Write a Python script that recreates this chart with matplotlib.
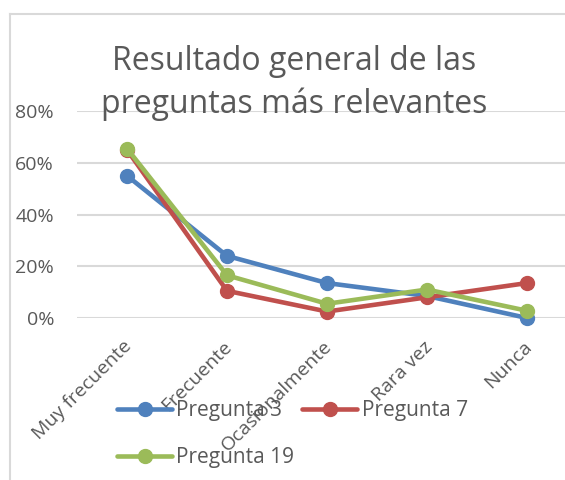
import matplotlib
matplotlib.use("Agg")
import matplotlib.pyplot as plt
from matplotlib.lines import Line2D
from matplotlib.transforms import ScaledTranslation

categories = ["Muy frecuente", "Frecuente", "Ocasionalmente", "Rara vez", "Nunca"]
pregunta_3 = [0.55, 0.24, 0.135, 0.085, 0.0]
pregunta_7 = [0.65, 0.105, 0.025, 0.08, 0.135]
pregunta_19 = [0.655, 0.165, 0.055, 0.11, 0.028]
yticks = [0, 0.2, 0.4, 0.6, 0.8]
ytick_labels = ["0%", "20%", "40%", "60%", "80%"]
title = "Resultado general de las\npreguntas más relevantes"

plt.rcParams['font.family'] = ['Open Sans', 'DejaVu Sans']
txt = "#595959"

fig = plt.figure(figsize=(5.65, 4.8), dpi=100)
W, H = 565, 480
ax = fig.add_axes([77 / W, (H - 318) / H, 500 / W, 207 / H])

x = list(range(len(categories)))
series = [("Pregunta 3", pregunta_3, "#4F81BD"),
          ("Pregunta 7", pregunta_7, "#C0504D"),
          ("Pregunta 19", pregunta_19, "#9BBB59")]
handles = {}
for name, vals, c in series:
    ln, = ax.plot(x, vals, color=c, lw=3.3, marker="o", ms=10, label=name,
                  solid_capstyle="round", clip_on=False, zorder=3)
    handles[name] = ln

ax.set_xlim(-0.5, len(categories) - 0.5)
ax.set_ylim(0, 0.8)
ax.set_yticks(yticks)
ax.set_yticklabels(ytick_labels)
ax.grid(axis="y", color="#d9d9d9", lw=1.5)
ax.set_axisbelow(True)
for s in ax.spines.values():
    s.set_visible(False)
ax.tick_params(axis="both", length=0, labelsize=14, colors=txt)
ax.tick_params(axis="y", pad=16.5)
ax.set_xticks(x)
ax.set_xticklabels(categories, rotation=45, ha="right", va="top",
                   rotation_mode="anchor")
ax.tick_params(axis="x", pad=14)
shift = ScaledTranslation(-4 / 100, 0, fig.dpi_scale_trans)
for lab in ax.get_xticklabels():
    lab.set_transform(lab.get_transform() + shift)

fig.text(294 / W, 1 - 83 / H, title, ha="center", va="center", fontsize=23,
         color=txt, linespacing=1.4)

# chart border
fig.add_artist(Line2D([10 / W, 10 / W], [0, 1 - 14 / H], transform=fig.transFigure,
                      color="#d9d9d9", lw=1.5))
fig.add_artist(Line2D([10 / W, 1], [1 - 14 / H, 1 - 14 / H], transform=fig.transFigure,
                      color="#d9d9d9", lw=1.5))

order = ["Pregunta 3", "Pregunta 19", "Pregunta 7"]
leg = fig.legend([handles[n] for n in order], order, ncol=2,
                 loc="upper left", bbox_to_anchor=(117 / W, 1 - 400 / H),
                 frameon=False, fontsize=15, handlelength=2.65,
                 handletextpad=0.2, columnspacing=0.38, labelspacing=1.25,
                 borderaxespad=0, borderpad=0)
for t in leg.get_texts():
    t.set_color(txt)

fig.savefig("out.png", dpi=100)
